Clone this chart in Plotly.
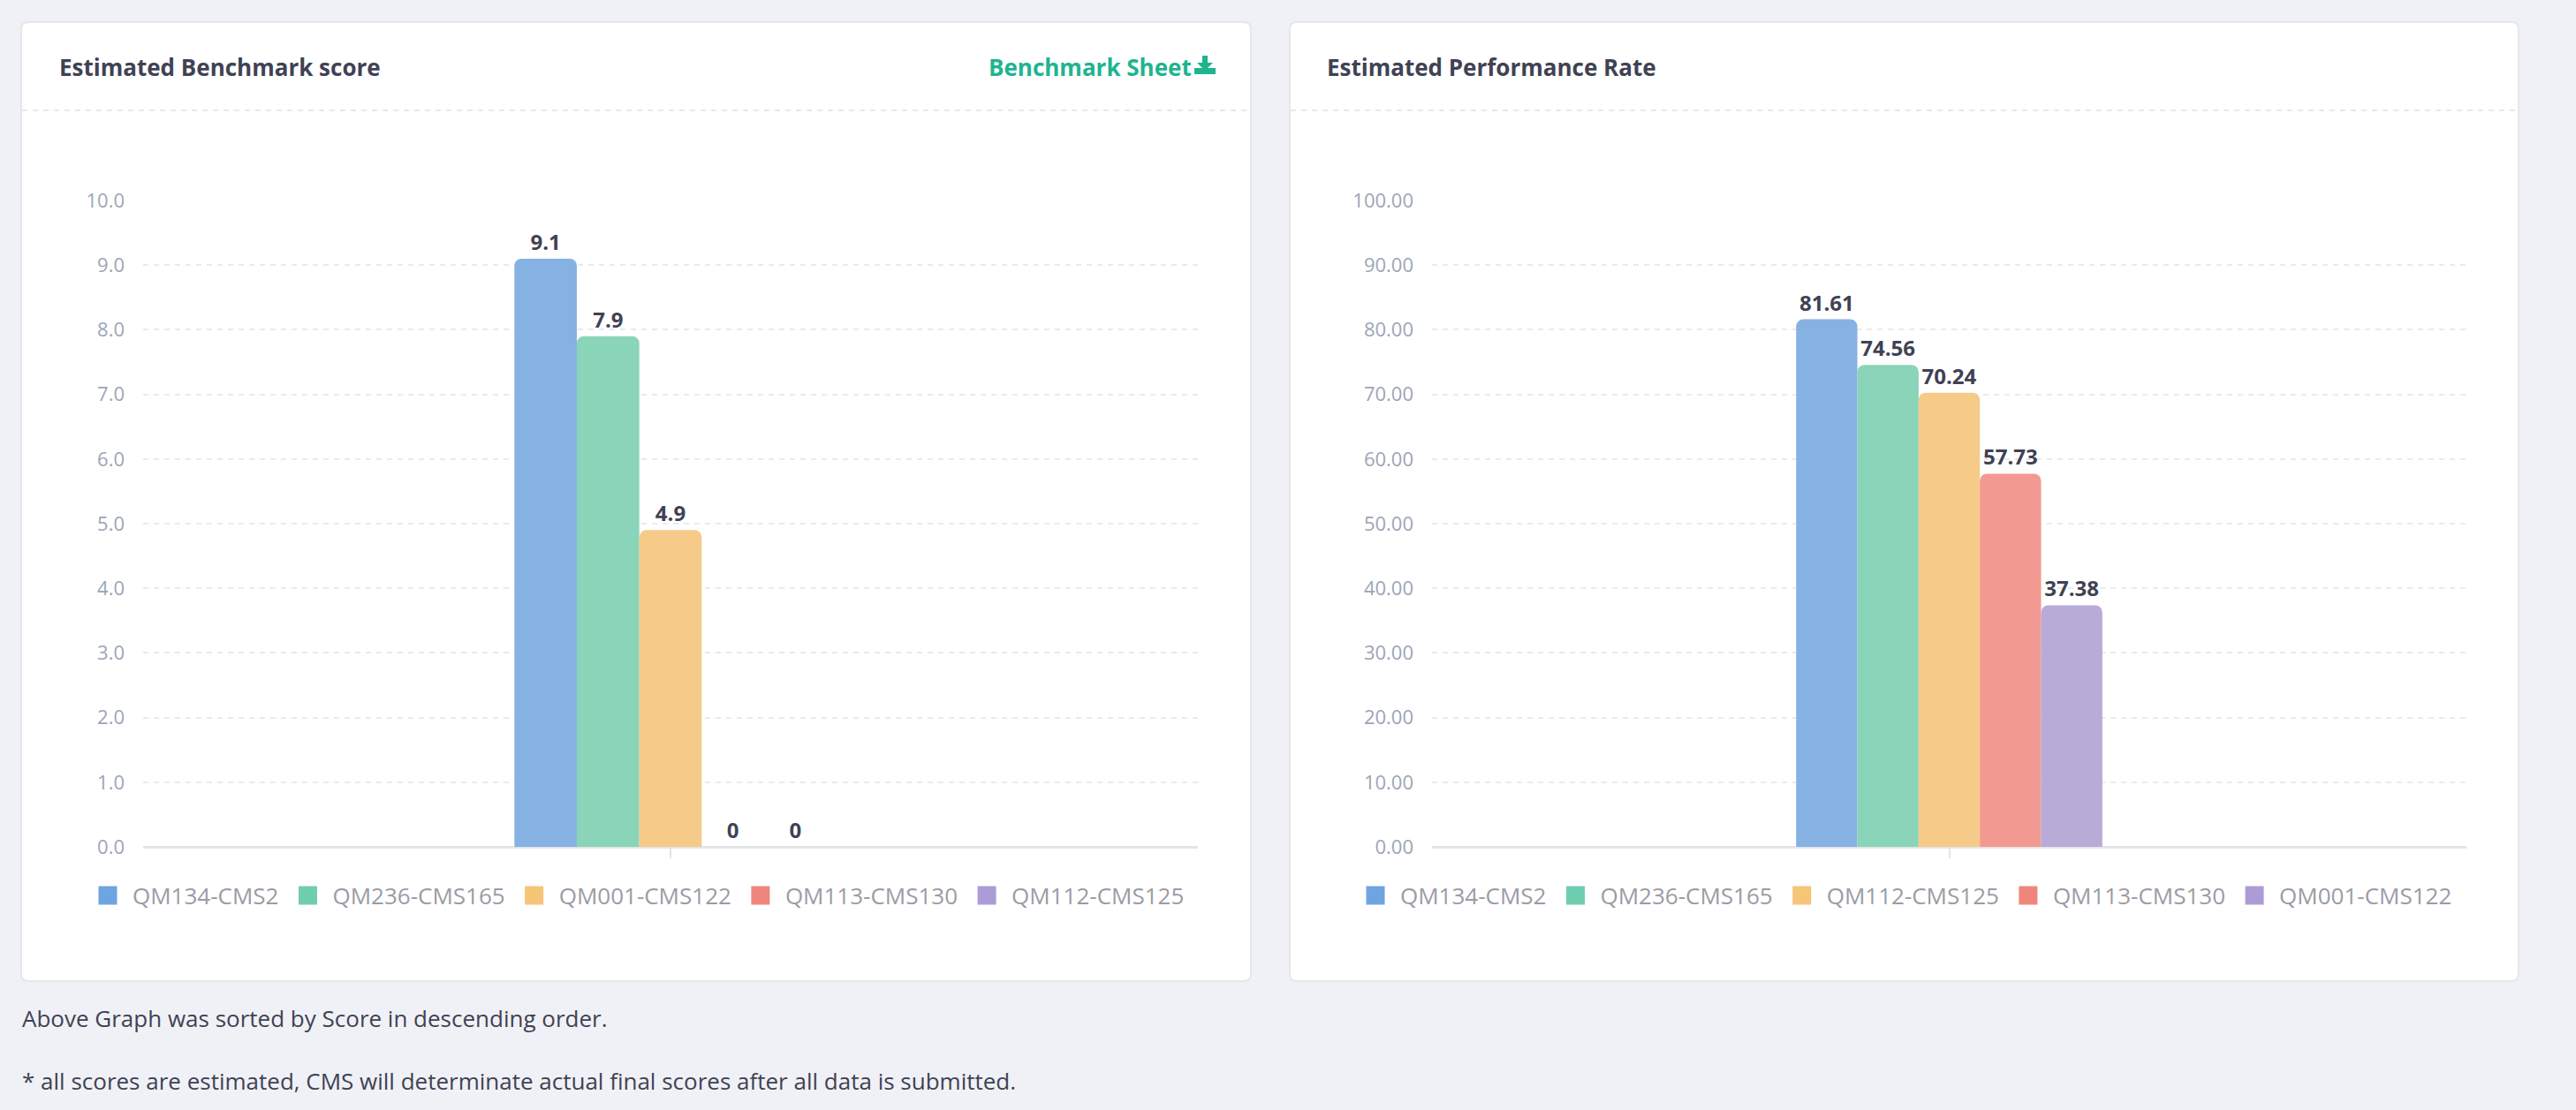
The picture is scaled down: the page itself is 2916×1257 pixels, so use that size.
import plotly.graph_objects as go

W, H = 2916, 1257

# data
category = ["Score"]
bench_names = ["QM134-CMS2", "QM236-CMS165", "QM001-CMS122", "QM113-CMS130", "QM112-CMS125"]
bench_scores = [9.1, 7.9, 4.9, 0, 0]
perf_names = ["QM134-CMS2", "QM236-CMS165", "QM112-CMS125", "QM113-CMS130", "QM001-CMS122"]
perf_rates = [81.61, 74.56, 70.24, 57.73, 37.38]

bar_colors = ["#85b2e3", "#8ad4b9", "#f6cb89", "#f29a91", "#b8abd7"]
swatch_colors = ["#6ea5e0", "#6fcdb0", "#f5c578", "#ef867c", "#ab9cd6"]

FONT = "Open Sans"
DARK = "#3f4254"


def px(x):
    return x / W


def py(y):
    return 1 - y / H


def card_path(x0, y0, x1, y1, r=8):
    rx, ry = r / W, r / H
    a, b, c, d = px(x0), py(y0), px(x1), py(y1)
    return (f"M{a + rx},{b} L{c - rx},{b} Q{c},{b} {c},{b - ry} "
            f"L{c},{d + ry} Q{c},{d} {c - rx},{d} L{a + rx},{d} "
            f"Q{a},{d} {a},{d + ry} L{a},{b - ry} Q{a},{b} {a + rx},{b} Z")


fig = go.Figure()


def add_series(names, values, xa, ya, leg, grp):
    for i, (name, val) in enumerate(zip(names, values)):
        fig.add_trace(go.Bar(x=category, y=[val], name=name, legendgroup=grp + name,
                             showlegend=False,
                             marker=dict(color=bar_colors[i], line_width=0, cornerradius=8),
                             text=[f"{val:g}"], texttemplate="%{text}",
                             textposition="outside", cliponaxis=False,
                             textfont=dict(family=FONT, size=24, color=DARK, weight="bold"),
                             xaxis=xa, yaxis=ya))
        # legend entry with a bigger square swatch
        fig.add_trace(go.Scatter(x=[None], y=[None], mode="markers", name=name,
                                 legendgroup=grp + name, legend=leg,
                                 marker=dict(symbol="square", size=16, color=swatch_colors[i],
                                             line=dict(width=5, color=swatch_colors[i])),
                                 xaxis=xa, yaxis=ya))


add_series(bench_names, bench_scores, "x", "y", "legend", "b")
add_series(perf_names, perf_rates, "x2", "y2", "legend2", "p")

xax = dict(type="category", range=[-0.5, 0.5], showticklabels=False, showgrid=False,
           ticks="outside", ticklen=12, tickwidth=1.5, tickcolor="#e2e4e8",
           showline=False, zeroline=False, fixedrange=True, automargin=False)
yax = dict(showgrid=True, gridcolor="#e9eaee", gridwidth=2, griddash="6px,6px",
           zeroline=True, zerolinecolor="#e4e5e8", zerolinewidth=3,
           showline=False, ticks="", ticklabelstandoff=20, automargin=False,
           tickfont=dict(family=FONT, size=22, color="#9ca5b6"), fixedrange=True)

shapes = []
for x0, x1 in [(24, 1416), (1460, 2851)]:
    shapes.append(dict(type="path", xref="paper", yref="paper", layer="below",
                       path=card_path(x0, 25, x1, 1111), fillcolor="white",
                       line=dict(color="#e5e7ec", width=2)))
    shapes.append(dict(type="line", xref="paper", yref="paper", layer="below",
                       x0=px(x0 + 1), x1=px(x1 - 1), y0=py(125), y1=py(125),
                       line=dict(color="#e8e9ee", width=2, dash="6px,6px")))

# download icon next to "Benchmark Sheet"
green = "#1eb48f"
shapes.append(dict(type="rect", xref="paper", yref="paper",
                   x0=px(1361), x1=px(1367), y0=py(63), y1=py(72),
                   fillcolor=green, line_width=0))
shapes.append(dict(type="path", xref="paper", yref="paper",
                   path=f"M{px(1355)},{py(71)} L{px(1373)},{py(71)} L{px(1364)},{py(80)} Z",
                   fillcolor=green, line_width=0))
shapes.append(dict(type="rect", xref="paper", yref="paper",
                   x0=px(1352), x1=px(1376), y0=py(77), y1=py(84),
                   fillcolor=green, line_width=0))

annotations = [
    dict(text="Estimated Benchmark score", x=px(65), y=py(76), xanchor="left", yanchor="middle",
         font=dict(family=FONT, size=26, color=DARK, weight="bold")),
    dict(text="Benchmark Sheet", x=px(1351), y=py(76), xanchor="right", yanchor="middle",
         font=dict(family=FONT, size=26, color=green, weight="bold")),
    dict(text="Estimated Performance Rate", x=px(1500), y=py(76), xanchor="left", yanchor="middle",
         font=dict(family=FONT, size=26, color=DARK, weight="bold")),
    dict(text="Above Graph was sorted by Score in descending order.", x=px(23), y=py(1153),
         xanchor="left", yanchor="middle", font=dict(family=FONT, size=26, color=DARK)),
    dict(text="* all scores are estimated, CMS will determinate actual final scores after all data is submitted.",
         x=px(23), y=py(1224), xanchor="left", yanchor="middle",
         font=dict(family=FONT, size=26, color=DARK)),
]
for a in annotations:
    a.update(xref="paper", yref="paper", showarrow=False)

legend_style = dict(orientation="h", xanchor="center", yanchor="middle", y=py(1014),
                    itemwidth=46,
                    font=dict(family=FONT, size=26, color="#9a9ca5"),
                    bgcolor="rgba(0,0,0,0)", itemclick=False, itemdoubleclick=False)

fig.update_layout(
    width=W, height=H, margin=dict(l=0, r=0, t=0, b=0, autoexpand=False),
    paper_bgcolor="#f0f1f6", plot_bgcolor="rgba(0,0,0,0)",
    barmode="group", bargap=0.704, bargroupgap=0,
    xaxis=dict(xax, domain=[px(162), px(1356)], anchor="y"),
    yaxis=dict(yax, domain=[py(959), py(227)], range=[0, 10], dtick=1, tickformat=".1f", anchor="x"),
    xaxis2=dict(xax, domain=[px(1621), px(2792)], anchor="y2"),
    yaxis2=dict(yax, domain=[py(959), py(227)], range=[0, 100], dtick=10, tickformat=".2f", anchor="x2"),
    legend=dict(legend_style, x=px(720)),
    legend2=dict(legend_style, x=px(2155)),
    shapes=shapes, annotations=annotations,
    hovermode=False,
)

fig.write_html("out.html", config={"displayModeBar": False},
               post_script="document.body.style.margin='0';document.body.style.overflow='hidden';")
